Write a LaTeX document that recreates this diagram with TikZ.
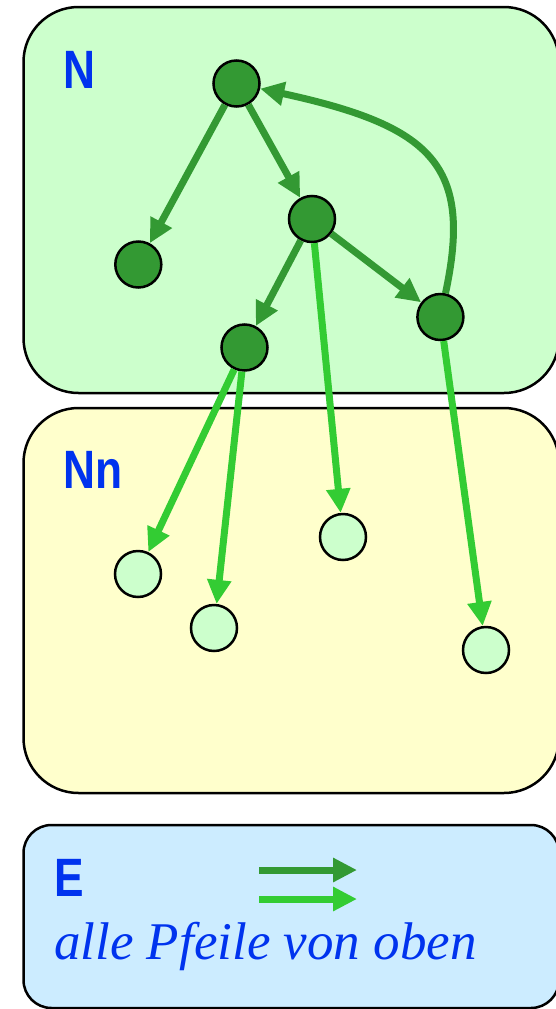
\documentclass[tikz,border=0pt]{standalone}
\usepackage{fontspec}
\usetikzlibrary{arrows.meta}
\newfontfamily\lblfont[FakeStretch=0.82]{Liberation Sans}
\newfontfamily\txtfont{Liberation Serif Italic}
\definecolor{dkgreen}{RGB}{51,153,51}
\definecolor{ltgreen}{RGB}{51,204,51}
\definecolor{nfill}{RGB}{204,255,204}
\definecolor{nnfill}{RGB}{255,255,204}
\definecolor{efill}{RGB}{204,236,255}
\definecolor{txtblue}{RGB}{0,51,238}
\tikzset{
  regionbox/.style={draw=black, line width=2.5pt},
  dknode/.style={circle, draw=black, line width=2.5pt, fill=dkgreen, minimum size=46pt, inner sep=0pt},
  ltnode/.style={circle, draw=black, line width=2.5pt, fill=nfill, minimum size=46pt, inner sep=0pt},
  tip/.style={-{Triangle[length=24pt,width=23pt]}},
  dkedge/.style={tip, draw=dkgreen, line width=7pt},
  ltedge/.style={tip, draw=ltgreen, line width=7pt},
  setlabel/.style={anchor=base west, inner sep=0pt, text=txtblue, font=\lblfont\bfseries\fontsize{54}{54}\selectfont},
  note/.style={anchor=base west, inner sep=0pt, text=txtblue, font=\txtfont\fontsize{53}{53}\selectfont}
}
\begin{document}
\begin{tikzpicture}[x=1pt,y=-1pt]
\useasboundingbox (0,0) rectangle (556,1009);
% region boxes
\draw[regionbox, fill=nfill, rounded corners=55pt] (23.5,7) rectangle (559,393);
\draw[regionbox, fill=nnfill, rounded corners=55pt] (23.5,408) rectangle (559,793);
\draw[regionbox, fill=efill, rounded corners=28pt] (23.5,825) rectangle (559,1008);
% labels
\node[setlabel] (labN) at (63,88) {N};
\node[setlabel] (labNn) at (63,488) {Nn};
\node[setlabel] (labE) at (54,896) {E};
\node[note] (labtxt) at (54,959) {alle Pfeile von oben};
% dark nodes
\node[dknode] (A) at (236.5,83.5) {};
\node[dknode] (B) at (312,219) {};
\node[dknode] (C) at (138.3,264.5) {};
\node[dknode] (D) at (244.5,347.5) {};
\node[dknode] (E) at (440.4,317) {};
% light nodes
\node[ltnode] (L1) at (138,574) {};
\node[ltnode] (L2) at (214,628) {};
\node[ltnode] (L3) at (343,537) {};
\node[ltnode] (L4) at (486,650) {};
% dark edges
\draw[dkedge] (A) -- (C);
\draw[dkedge] (A) -- (B);
\draw[dkedge] (B) -- (D);
\draw[dkedge] (B) -- (E);
\draw[dkedge] (E) .. controls (473,165) and (432,126) .. (A);
% light edges
\draw[ltedge] (D) -- (L1);
\draw[ltedge] (D) -- (L2);
\draw[ltedge] (B) -- (L3);
\draw[ltedge] (E) -- (L4);
% legend arrows
\coordinate (k1s) at (259,870);
\coordinate (k1e) at (357,870);
\coordinate (k2s) at (259,899);
\coordinate (k2e) at (357,899);
\draw[dkedge] (k1s) -- (k1e);
\draw[ltedge] (k2s) -- (k2e);
\end{tikzpicture}
\end{document}
